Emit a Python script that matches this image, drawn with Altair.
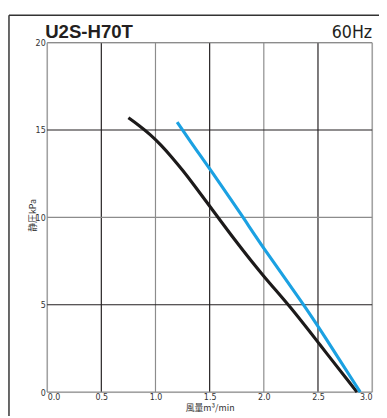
import altair as alt
import pandas as pd

# Curve data
black_x = [0.75, 0.85, 0.95, 1.05, 1.15, 1.25, 1.35, 1.5, 1.75, 2.0, 2.25, 2.5, 2.86]
black_y = [15.7, 15.25, 14.75, 14.15, 13.45, 12.7, 11.9, 10.65, 8.55, 6.6, 4.85, 2.85, 0.0]
blue_x = [1.2, 1.39, 1.5, 1.81, 2.0, 2.37, 2.55, 2.89]
blue_y = [15.45, 13.74, 12.8, 10.0, 8.2, 5.0, 3.3, 0.0]

x_ticks = [0, 0.5, 1.0, 1.5, 2.0, 2.5, 3.0]
y_ticks = [0, 5, 10, 15, 20]
x_grid_color = ["#8c8c8c", "#231f20", "#8c8c8c", "#231f20", "#8c8c8c", "#231f20", "#8c8c8c"]
y_grid_color = ["#8c8c8c", "#231f20", "#8c8c8c", "#231f20", "#8c8c8c"]

title_text = "U2S-H70T"
freq_text = "60Hz"
x_title = "風量m³/min"
y_title = "静圧kPa"

W, H = 332, 357
narrow = "Liberation Sans Narrow, DejaVu Sans Condensed, Liberation Sans"

curves = pd.concat([
    pd.DataFrame({"x": black_x, "y": black_y, "s": "black"}),
    pd.DataFrame({"x": blue_x, "y": blue_y, "s": "blue"}),
])
xg = pd.DataFrame({"v": x_ticks, "c": x_grid_color})
yg = pd.DataFrame({"v": y_ticks, "c": y_grid_color})

xs = alt.Scale(domain=[0, 3.0], nice=False, zero=False)
ys = alt.Scale(domain=[0, 20], nice=False, zero=False)

x_axis = alt.Axis(values=x_ticks, format=".1f", grid=False, domain=False, ticks=False,
                  labelFont=narrow, labelFontSize=9, labelColor="#333", labelPadding=1,
                  title=x_title, titleFont="Noto Sans CJK JP", titleFontSize=9,
                  titleFontWeight="normal", titleColor="#333", titleX=166, titleY=12,
                  titleBaseline="top")
y_axis = alt.Axis(values=y_ticks, format="d", grid=False, domain=False, ticks=False,
                  labelFont=narrow, labelFontSize=9, labelColor="#333", labelPadding=2,
                  title=y_title, titleFont="Noto Sans CJK JP", titleFontSize=9,
                  titleFontWeight="normal", titleColor="#333", titleX=-15, titleY=176,
                  titleAlign="center", titleBaseline="middle")

vgrid = alt.Chart(xg).mark_rule(strokeWidth=1.2).encode(
    x=alt.X("v:Q", scale=xs, axis=x_axis),
    color=alt.Color("c:N", scale=None),
)
hgrid = alt.Chart(yg).mark_rule(strokeWidth=1.2).encode(
    y=alt.Y("v:Q", scale=ys, axis=y_axis),
    color=alt.Color("c:N", scale=None),
)
lines = alt.Chart(curves).mark_line(strokeWidth=3.2, strokeCap="butt", interpolate="basis").encode(
    x=alt.X("x:Q", scale=xs),
    y=alt.Y("y:Q", scale=ys),
    color=alt.Color("s:N", scale=alt.Scale(domain=["black", "blue"], range=["#1c1a1a", "#1ba1e2"]), legend=None),
    order="x:Q",
)
freq = alt.Chart(pd.DataFrame({"t": [freq_text]})).mark_text(
    align="right", baseline="alphabetic", dy=-5, fontSize=18, font=narrow, color="#231f20"
).encode(x=alt.datum(3.0), y=alt.datum(20), text="t:N")
ttl = alt.Chart(pd.DataFrame({"t": [title_text]})).mark_text(
    align="left", baseline="alphabetic", dy=-5, dx=-2, fontSize=19, font="Liberation Sans",
    fontWeight="bold", color="#231f20"
).encode(x=alt.datum(0), y=alt.datum(20), text="t:N")

frame_v = alt.Chart(pd.DataFrame({"a": [0]})).mark_rule(color="#333", strokeWidth=1.5).encode(
    x=alt.value(-39), x2=alt.value(-39), y=alt.value(-28), y2=alt.value(420))
frame_h = alt.Chart(pd.DataFrame({"a": [0]})).mark_rule(
    color="#333", strokeWidth=1.5, yOffset=-28).encode(
    y=alt.datum(20, scale=ys), x=alt.value(-39), x2=alt.value(345))

chart = alt.layer(vgrid, hgrid, lines, freq, ttl, frame_v, frame_h).properties(
    width=W, height=H,
    autosize=alt.AutoSizeParams(type="none"),
    padding={"left": 40, "top": 31, "right": 7, "bottom": 20},
).configure_view(stroke=None).configure(background="white")

chart.save("out.html", embed_options={"renderer": "svg", "actions": False})
